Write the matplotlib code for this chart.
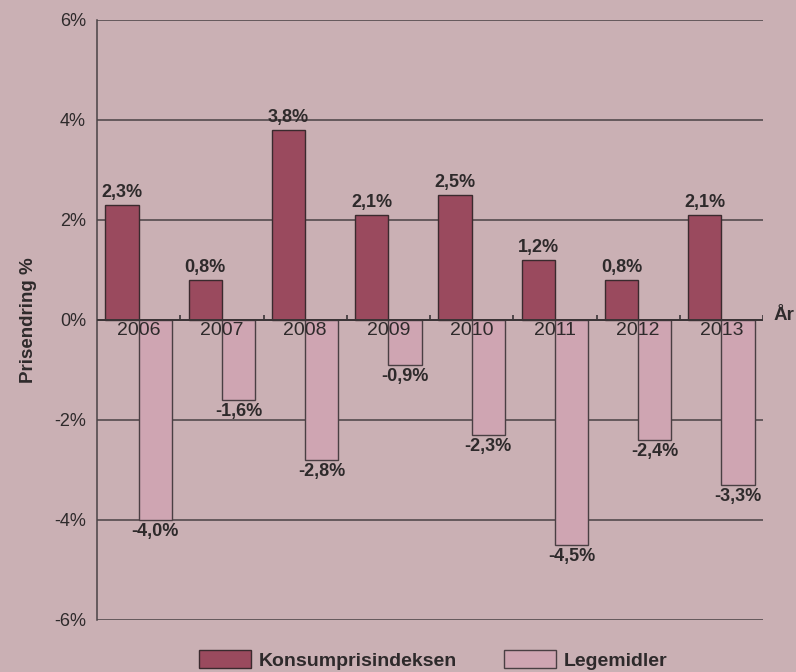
import matplotlib.pyplot as plt
import numpy as np
from matplotlib.patches import Patch

plt.rcParams['font.family'] = ['Liberation Sans', 'DejaVu Sans']

# data
years = ['2006', '2007', '2008', '2009', '2010', '2011', '2012', '2013']
kpi = [2.3, 0.8, 3.8, 2.1, 2.5, 1.2, 0.8, 2.1]
legemidler = [-4.0, -1.6, -2.8, -0.9, -2.3, -4.5, -2.4, -3.3]
yticks = [-6, -4, -2, 0, 2, 4, 6]

bg = '#CAB0B4'
dark = '#9A4A5E'
light = '#CFA5B2'
line_col = '#4A4245'
text_col = '#2E2A2B'

fig = plt.figure(figsize=(7.96, 6.72), dpi=100, facecolor=bg)
ax = fig.add_axes([97 / 796, 52 / 672, 666 / 796, 600 / 672])
ax.set_facecolor(bg)

x = np.arange(len(years))
w = 0.4

# gridlines
for t in yticks:
    ax.axhline(t, color=line_col, lw=1.1, zorder=1)

ax.bar(x - w / 2, kpi, w, color=dark, edgecolor='#3A2A2E', lw=1, zorder=2,
       label='Konsumprisindeksen')
ax.bar(x + w / 2, legemidler, w, color=light, edgecolor='#4A3F43', lw=1, zorder=2,
       label='Legemidler')

ax.axhline(0, color='#3A3436', lw=1.4, zorder=3)
# category separator ticks on zero line
ax.vlines(x + 0.5, 0, 0.1, color='#3A3436', lw=1.2, zorder=3)

# value labels
for xi, v in zip(x, kpi):
    ax.text(xi - w / 2, v + 0.08, f'{v:.1f}%'.replace('.', ','), ha='center', va='bottom',
            fontsize=13, fontweight='bold', color=text_col, zorder=4)
for xi, v in zip(x, legemidler):
    ax.text(xi + w / 2, v - 0.06, f'{v:.1f}%'.replace('.', ','), ha='center', va='top',
            fontsize=13, fontweight='bold', color=text_col, zorder=4)

# year labels below zero line
for xi, yr in zip(x, years):
    ax.text(xi, -0.05, yr, ha='center', va='top', fontsize=14, color=text_col, zorder=4)
ax.text(7.62, 0.08, 'År', ha='left', va='center', fontsize=13.5, fontweight='bold',
        color=text_col)

ax.set_xlim(-0.5, 7.5)
ax.set_ylim(-6, 6)
ax.set_xticks([])
ax.set_yticks(yticks)
ax.set_yticklabels([f'{t}%' for t in yticks], fontsize=13, color=text_col)
ax.tick_params(axis='y', length=0, pad=8)
for s in ['top', 'right', 'bottom']:
    ax.spines[s].set_visible(False)
ax.spines['left'].set_color(line_col)
ax.spines['left'].set_linewidth(1.1)

ax.set_ylabel('Prisendring %', fontsize=13.5, fontweight='bold', color=text_col, labelpad=12)

handles = [Patch(facecolor=dark, edgecolor='#3A2A2E', label='Konsumprisindeksen'),
           Patch(facecolor=light, edgecolor='#4A3F43', label='Legemidler')]
fig.legend(handles=handles, loc='center', bbox_to_anchor=(433 / 796, 12 / 672), ncol=2,
           frameon=False, prop={'size': 14, 'weight': 'bold'}, handlelength=2.68,
           handleheight=1.0, columnspacing=2.4, handletextpad=0.4, labelcolor=text_col)

fig.savefig('out.png', dpi=100, facecolor=bg)
